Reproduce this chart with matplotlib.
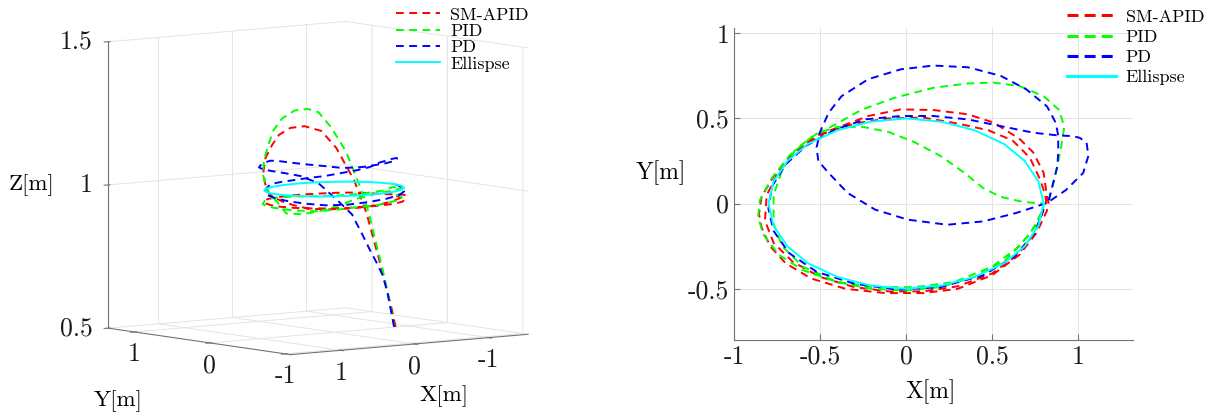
import numpy as np
import matplotlib
matplotlib.use('Agg')
import matplotlib.pyplot as plt
from matplotlib.lines import Line2D

plt.rcParams['font.family'] = 'cmr10'
plt.rcParams['mathtext.fontset'] = 'cm'
plt.rcParams['axes.unicode_minus'] = False
plt.rcParams['grid.color'] = '#e4e4e4'
plt.rcParams['grid.linewidth'] = 0.7

# reference ellipse
ell_x = [0.80, 0.77, 0.69, 0.57, 0.40, 0.21, 0.00, -0.21, -0.40, -0.57, -0.69, -0.77, -0.80,
         -0.77, -0.69, -0.57, -0.40, -0.21, 0.00, 0.21, 0.40, 0.57, 0.69, 0.77, 0.80]
ell_y = [0.00, 0.13, 0.25, 0.35, 0.43, 0.48, 0.50, 0.48, 0.43, 0.35, 0.25, 0.13, 0.00,
         -0.13, -0.25, -0.35, -0.43, -0.48, -0.50, -0.48, -0.43, -0.35, -0.25, -0.13, 0.00]
ell_z = [1.0] * len(ell_x)

# SM-APID
sm_x = [0.83, 0.82, 0.80, 0.74, 0.66, 0.51, 0.36, 0.16, -0.03, -0.22, -0.375, -0.52, -0.66, -0.77,
        -0.84, -0.855, -0.84, -0.79, -0.70, -0.55, -0.35, -0.12, 0.10, 0.30, 0.50, 0.66, 0.76, 0.82,
        0.81, 0.78, 0.72, 0.62, 0.48, 0.30, 0.10, -0.10, -0.30, -0.48, -0.62, -0.74, -0.81, -0.82,
        -0.77, -0.66, -0.50, -0.30, -0.10, 0.10, 0.30, 0.50, 0.65, 0.75, 0.80]
sm_y = [0.00, 0.04, 0.18, 0.30, 0.38, 0.475, 0.524, 0.549, 0.553, 0.514, 0.455, 0.40, 0.29, 0.16,
        0.04, -0.06, -0.14, -0.25, -0.35, -0.44, -0.50, -0.525, -0.525, -0.50, -0.42, -0.30, -0.17, -0.04,
        0.05, 0.14, 0.27, 0.37, 0.43, 0.47, 0.505, 0.50, 0.47, 0.41, 0.32, 0.19, 0.05, -0.10,
        -0.23, -0.34, -0.43, -0.49, -0.515, -0.515, -0.485, -0.41, -0.30, -0.17, -0.04]
sm_z = [0.50, 0.56, 0.72, 0.89, 1.0, 1.115, 1.175, 1.195, 1.193, 1.175, 1.145, 1.105, 1.065, 1.03,
        1.0, 0.99, 0.98, 0.97, 0.96, 0.958, 0.958, 0.96, 0.965, 0.972, 0.978, 0.975, 0.97, 0.965,
        0.962, 0.96, 0.96, 0.96, 0.96, 0.96, 0.96, 0.96, 0.96, 0.96, 0.96, 0.96, 0.96, 0.96,
        0.96, 0.96, 0.96, 0.96, 0.96, 0.96, 0.96, 0.96, 0.96, 0.96, 0.96]

# PID
pid_x = [0.83, 0.86, 0.88, 0.90, 0.92, 0.89, 0.80, 0.66, 0.51, 0.36, 0.16, -0.07, -0.26, -0.41,
         -0.55, -0.68, -0.78, -0.85, -0.86, -0.83, -0.74, -0.60, -0.40, -0.20, 0.00, 0.20, 0.40, 0.58,
         0.72, 0.79, 0.80, 0.68, 0.55, 0.45, 0.34, 0.20, 0.05, -0.10, -0.25, -0.40, -0.52, -0.64,
         -0.72, -0.77, -0.77, -0.72, -0.60, -0.40, -0.18, 0.05, 0.28, 0.50, 0.66, 0.76, 0.80]
pid_y = [0.02, 0.13, 0.22, 0.32, 0.45, 0.55, 0.63, 0.69, 0.71, 0.705, 0.68, 0.62, 0.55, 0.465,
         0.39, 0.28, 0.15, 0.02, -0.08, -0.18, -0.30, -0.39, -0.46, -0.50, -0.51, -0.49, -0.43, -0.33,
         -0.18, -0.05, 0.00, 0.01, 0.04, 0.09, 0.18, 0.28, 0.36, 0.42, 0.45, 0.45, 0.41, 0.32,
         0.20, 0.05, -0.12, -0.25, -0.37, -0.46, -0.49, -0.49, -0.46, -0.37, -0.25, -0.12, -0.02]
pid_z = [0.50, 0.61, 0.69, 0.77, 0.885, 0.98, 1.09, 1.175, 1.23, 1.245, 1.245, 1.225, 1.19, 1.15,
         1.10, 1.06, 1.03, 1.00, 0.98, 0.94, 0.94, 0.95, 0.97, 0.99, 1.00, 1.005, 1.005, 1.005,
         1.0, 0.99, 0.99, 0.98, 0.975, 0.97, 0.965, 0.96, 0.96, 0.96, 0.96, 0.96, 0.955, 0.95,
         0.95, 0.95, 0.95, 0.95, 0.95, 0.955, 0.96, 0.96, 0.965, 0.965, 0.965, 0.965, 0.965]

# PD
pd_x = [0.83, 0.86, 0.88, 0.885, 0.885, 0.87, 0.82, 0.70, 0.55, 0.36, 0.16, -0.03, -0.22, -0.375,
        -0.45, -0.50, -0.52, -0.51, -0.45, -0.34, -0.18, 0.01, 0.24, 0.45, 0.64, 0.82, 0.93, 1.03,
        1.06, 1.05, 1.01, 0.97, 0.885, 0.74, 0.55, 0.36, 0.16, -0.03, -0.24, -0.42, -0.58, -0.70,
        -0.78, -0.80, -0.77, -0.68, -0.52, -0.30, -0.05, 0.20, 0.45, 0.63, 0.75, 0.80]
pd_y = [0.02, 0.14, 0.22, 0.30, 0.40, 0.475, 0.57, 0.67, 0.75, 0.80, 0.81, 0.788, 0.73, 0.63,
        0.533, 0.42, 0.33, 0.25, 0.18, 0.063, -0.035, -0.094, -0.124, -0.104, -0.055, 0.004, 0.08, 0.18,
        0.28, 0.357, 0.386, 0.396, 0.40, 0.416, 0.455, 0.494, 0.514, 0.514, 0.494, 0.43, 0.34, 0.23,
        0.10, -0.03, -0.16, -0.29, -0.40, -0.47, -0.505, -0.49, -0.42, -0.31, -0.17, -0.03]
pd_z = [0.50, 0.617, 0.67, 0.709, 0.755, 0.801, 0.872, 0.926, 0.98, 1.007, 1.021, 1.033, 1.046, 1.06,
        1.073, 1.089, 1.098, 1.10, 1.097, 1.092, 1.086, 1.077, 1.076, 1.078, 1.078, 1.08, 1.082, 1.079,
        1.071, 1.061, 1.056, 1.05, 1.042, 1.034, 1.026, 1.018, 1.015, 1.012, 1.01, 1.01, 1.0, 0.995,
        0.99, 0.985, 0.98, 0.975, 0.97, 0.97, 0.975, 0.98, 0.985, 0.99, 0.995, 1.0]

names = ['SM-APID', 'PID', 'PD', 'Ellispse']
colors = ['#ff0000', '#00ff00', '#0000ff', '#00ffff']
series = [(sm_x, sm_y, sm_z), (pid_x, pid_y, pid_z), (pd_x, pd_y, pd_z), (ell_x, ell_y, ell_z)]
dash = (0, (4.0, 2.8))

xt3 = [1, 0, -1]
yt3 = [1, 0, -1]
zt3 = [0.5, 1, 1.5]
zt3_labels = ['0.5', '1', '1.5']
xlim3, ylim3, zlim3 = (1.68, -1.53), (-1.07, 1.35), (0.5, 1.5)

fig = plt.figure(figsize=(12.24, 4.17), dpi=100)

# ---------------- 3-D panel ----------------
ax3 = fig.add_axes([-0.0153, -0.026, 0.54, 1.12], projection='3d')
ax3.set_proj_type('ortho')
ax3.view_init(elev=6.4, azim=-127.5)
ax3.set_box_aspect((1, 1, 0.962), zoom=1.065)
for (x, y, z), c, n in zip(series, colors, names):
    ls = '-' if n == 'Ellispse' else dash
    # the 3-D panel of the source figure is mirrored in X
    ax3.plot(-np.array(x), y, z, color=c, lw=1.4, ls=ls, label=n)
ax3.set_xlim(*xlim3)
ax3.set_ylim(*ylim3)
ax3.set_zlim(*zlim3)
ax3.set_xticks(xt3)
ax3.set_yticks(yt3)
ax3.set_zticks(zt3)
ax3.set_xticklabels([])
ax3.set_yticklabels([])
ax3.set_zticklabels([])
for a in (ax3.xaxis, ax3.yaxis, ax3.zaxis):
    a.set_pane_color((1, 1, 1, 0))
    a.pane.set_edgecolor('#e4e4e4')
    a.line.set_color('0.45')
    a.line.set_linewidth(0.8)
ax3.tick_params(colors='0.45')
fig.canvas.draw()


def to_fig(x, y, z):
    # project a 3-D data point to figure coordinates with the axes' own matrix
    v = ax3.M @ np.array([x, y, z, 1.0])
    disp = ax3.transData.transform((v[0] / v[3], v[1] / v[3]))
    return fig.transFigure.inverted().transform(disp)


# tick labels sit straight below / left of their ticks, MATLAB style
lab_z = zlim3[0] - 0.078
for t in xt3:
    fig.text(*to_fig(t, ylim3[0], lab_z), str(t), fontsize=18.5, ha='center', va='center', color='0.1')
for t in yt3:
    fig.text(*to_fig(xlim3[0], t, lab_z), str(t), fontsize=18.5, ha='center', va='center', color='0.1')
for t, s in zip(zt3, zt3_labels):
    fig.text(*to_fig(xlim3[0], ylim3[1] + 0.2, t - 0.008), s, fontsize=18.5, ha='right', va='center',
             color='0.1')
fig.text(32 / 1224, 1 - 185 / 417, 'Z[m]', fontsize=16.5, ha='center', va='center')
fig.text(118 / 1224, 1 - 401 / 417, 'Y[m]', fontsize=16.5, ha='center', va='center')
fig.text(444 / 1224, 1 - 396 / 417, 'X[m]', fontsize=16.5, ha='center', va='center')
fig.legend(*ax3.get_legend_handles_labels(), loc='upper left', bbox_to_anchor=(0.3206, 0.992),
           frameon=False, fontsize=13, labelspacing=0.04, handlelength=2.44, handletextpad=0.55,
           borderaxespad=0, borderpad=0.2)

# ---------------- 2-D panel ----------------
ax = fig.add_axes([0.5997, 0.1847, 0.326, 0.748])
for (x, y, z), c, n in zip(series, colors, names):
    ls = '-' if n == 'Ellispse' else dash
    ax.plot(x, y, color=c, lw=1.4, ls=ls)
ax.set_xlim(-1, 1.32)
ax.set_ylim(-0.8, 1.03)
ax.set_xticks([-1, -0.5, 0, 0.5, 1])
ax.set_xticklabels(['-1', '-0.5', '0', '0.5', '1'])
ax.set_yticks([-0.5, 0, 0.5, 1])
ax.set_yticklabels(['-0.5', '0', '0.5', '1'])
ax.grid(True)
ax.set_axisbelow(True)
for s in ('top', 'right'):
    ax.spines[s].set_visible(False)
for s in ('left', 'bottom'):
    ax.spines[s].set_color('0.45')
    ax.spines[s].set_linewidth(0.8)
ax.tick_params(direction='in', length=4, width=0.8, colors='0.45', labelcolor='0.1', labelsize=18.5)
ax.set_xlabel('X[m]', fontsize=17, va='center')
ax.set_ylabel('Y[m]', fontsize=17, rotation=0, ha='center', va='center')
ax.xaxis.set_label_coords(0.492, -0.167)
ax.yaxis.set_label_coords(-0.183, 0.538)
# legend keys of the right panel are drawn heavier, as in the source
keys = [Line2D([], [], color=c, lw=2.2, ls='-' if n == 'Ellispse' else (0, (3.6, 2.0)))
        for c, n in zip(colors, names)]
fig.legend(keys, names, loc='upper left', bbox_to_anchor=(0.8688, 0.987), frameon=False,
           fontsize=13, labelspacing=0.25, handlelength=2.7, handletextpad=0.55,
           borderaxespad=0, borderpad=0.2)

fig.savefig('out.png', dpi=100)
